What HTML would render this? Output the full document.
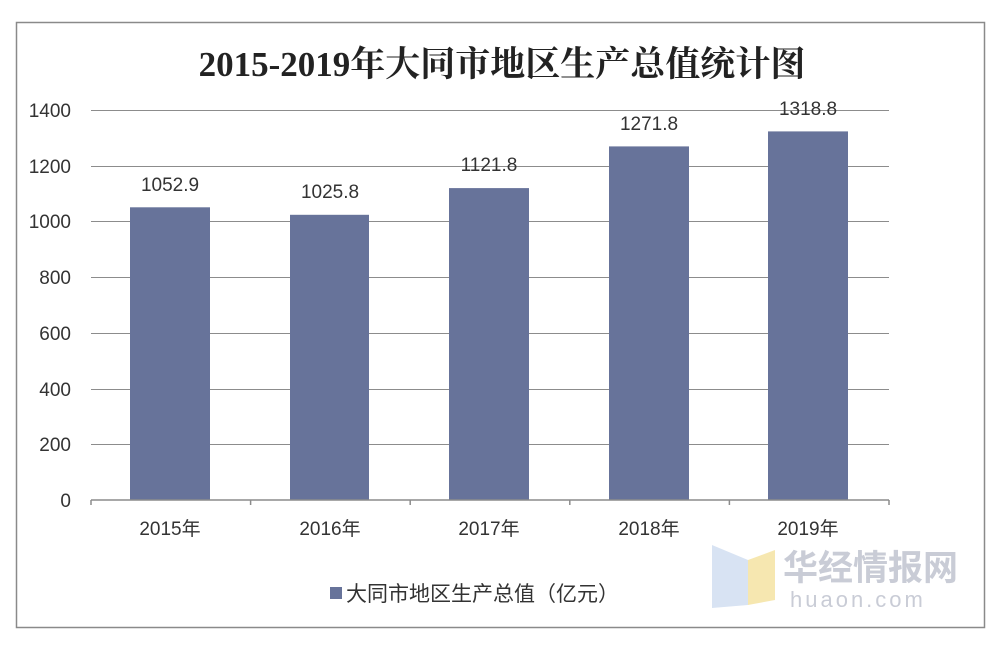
<!DOCTYPE html>
<html><head><meta charset="utf-8"><style>
body{margin:0;background:#fff;}
svg{display:block;}
</style></head><body>
<svg width="1000" height="648" xmlns="http://www.w3.org/2000/svg">
<rect x="0" y="0" width="1000" height="648" fill="#fff"/>
<rect x="16.5" y="22.5" width="968" height="605" fill="none" stroke="#8a8a8a" stroke-width="1.5"/>
<text x="502" y="76" text-anchor="middle" font-family="Liberation Serif, Noto Serif CJK SC, serif" font-size="35" font-weight="bold" fill="#222">2015-2019年大同市地区生产总值统计图</text>
<g stroke="#8c8c8c" stroke-width="1">
<line x1="91" x2="889" y1="110.5" y2="110.5"/>
<line x1="91" x2="889" y1="166.5" y2="166.5"/>
<line x1="91" x2="889" y1="221.5" y2="221.5"/>
<line x1="91" x2="889" y1="277.5" y2="277.5"/>
<line x1="91" x2="889" y1="333.5" y2="333.5"/>
<line x1="91" x2="889" y1="389.5" y2="389.5"/>
<line x1="91" x2="889" y1="444.5" y2="444.5"/>
</g>
<g fill="#67739a">
<rect x="130" y="207.3" width="80" height="292.7"/>
<rect x="290" y="214.8" width="79" height="285.2"/>
<rect x="449" y="188.1" width="80" height="311.9"/>
<rect x="609" y="146.4" width="80" height="353.6"/>
<rect x="768" y="131.4" width="80" height="368.6"/>
</g>
<g stroke="#8c8c8c" stroke-width="1.5">
<line x1="91" x2="889" y1="500" y2="500"/>
<line x1="91" x2="91" y1="500" y2="505"/>
<line x1="250.6" x2="250.6" y1="500" y2="505"/>
<line x1="410.2" x2="410.2" y1="500" y2="505"/>
<line x1="569.8" x2="569.8" y1="500" y2="505"/>
<line x1="729.4" x2="729.4" y1="500" y2="505"/>
<line x1="889" x2="889" y1="500" y2="505"/>
</g>
<g font-family="Liberation Sans, Noto Sans CJK SC, sans-serif" font-size="19" fill="#333" text-anchor="end">
<text x="71" y="117">1400</text>
<text x="71" y="173">1200</text>
<text x="71" y="228">1000</text>
<text x="71" y="284">800</text>
<text x="71" y="340">600</text>
<text x="71" y="396">400</text>
<text x="71" y="451">200</text>
<text x="71" y="507">0</text>
</g>
<g font-family="Liberation Sans, Noto Sans CJK SC, sans-serif" font-size="19" fill="#333" text-anchor="middle">
<text x="170" y="191">1052.9</text>
<text x="330" y="198">1025.8</text>
<text x="489" y="171">1121.8</text>
<text x="649" y="130">1271.8</text>
<text x="808" y="115">1318.8</text>
<text x="170" y="535">2015年</text>
<text x="330" y="535">2016年</text>
<text x="489" y="535">2017年</text>
<text x="649" y="535">2018年</text>
<text x="808" y="535">2019年</text>
</g>
<rect x="330" y="587" width="12" height="12" fill="#67739a"/>
<text x="346" y="601" font-family="Liberation Sans, Noto Sans CJK SC, sans-serif" font-size="21" fill="#333">大同市地区生产总值（亿元）</text>
<text x="783" y="580" font-family="Liberation Sans, Noto Sans CJK SC, sans-serif" font-size="35" font-weight="bold" fill="#c9ccd6">华经情报网</text>
<text x="790" y="607" font-family="Liberation Sans, sans-serif" font-size="22" fill="#c9ccd6" letter-spacing="3">huaon.com</text>
<polygon points="712,545 748,560 748,605 712,608" fill="#d8e3f3"/>
<polygon points="748,560 775,550 775,600 748,605" fill="#f6e7b0"/>
</svg>
</body></html>
